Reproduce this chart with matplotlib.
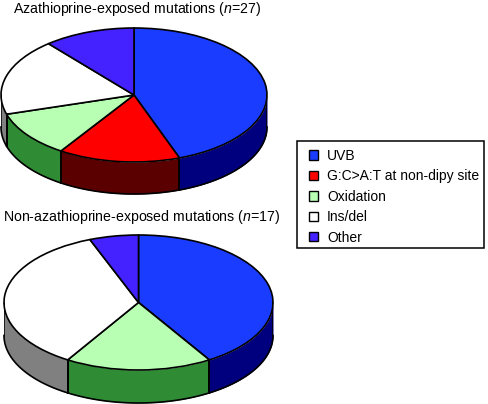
import numpy as np
import matplotlib
matplotlib.use("Agg")
import matplotlib.pyplot as plt
from matplotlib.patches import Patch, Rectangle

labels = ['UVB', 'G:C>A:T at non-dipy site', 'Oxidation', 'Ins/del', 'Other']
top_counts = [12, 4, 3, 5, 3]
bottom_counts = [7, 0, 3, 6, 1]
face_colors = ['#1a3cff', '#ff0000', '#b8ffb4', '#ffffff', '#4422ff']
side_colors = ['#00007f', '#5a0000', '#2f8c35', '#808080', '#22117f']

W, H = 488, 404
plt.rcParams['font.family'] = ['Liberation Sans', 'DejaVu Sans']
plt.rcParams['mathtext.fontset'] = 'custom'
plt.rcParams['mathtext.it'] = 'Liberation Sans:italic'
plt.rcParams['mathtext.rm'] = 'Liberation Sans'


def pie3d(fig, counts, left, right, top, front, depth):
    # box in pixels, top of the face ellipse to the bottom of the wall
    ry = (front - top) / 2
    ax = fig.add_axes([left / W, 1 - (front + depth) / H, (right - left) / W, (front + depth - top) / H])
    dy = depth / ry

    # walls first, only the front half of the disc shows
    edges = np.cumsum([0] + list(counts)) / sum(counts) * 2 * np.pi
    for i in range(len(counts)):
        a = max(edges[i], np.pi / 2)
        b = min(edges[i + 1], 3 * np.pi / 2)
        if b <= a:
            continue
        t = np.linspace(a, b, 80)
        x = np.sin(t)
        y = np.cos(t)
        ax.fill_between(x, y - dy, y, color=side_colors[i], lw=0)
        ax.plot(x, y - dy, color='k', lw=1.2, clip_on=False)
        ax.plot([x[0], x[0]], [y[0], y[0] - dy], color='k', lw=1.2)
        ax.plot([x[-1], x[-1]], [y[-1], y[-1] - dy], color='k', lw=1.2)

    ax.pie(counts, colors=face_colors, startangle=90, counterclock=False, radius=1,
           wedgeprops={'edgecolor': 'k', 'linewidth': 1.2, 'clip_on': False})
    ax.set_aspect('auto')
    ax.set_xlim(-1, 1)
    ax.set_ylim(-1 - dy, 1)
    ax.axis('off')
    return ax


fig = plt.figure(figsize=(W / 100, H / 100), dpi=100)

pie3d(fig, top_counts, 1, 267, 28, 162, 32)
pie3d(fig, bottom_counts, 4, 273, 235, 370, 33)

fig.text(13 / W, 1 - 13 / H, 'Azathioprine-exposed mutations ($\\mathit{n}$=27)',
         fontsize=10.2, color='k', va='baseline')
fig.text(3 / W, 1 - 221 / H, 'Non-azathioprine-exposed mutations ($\\mathit{n}$=17)',
         fontsize=10.2, color='k', va='baseline')

# legend frame has uneven padding, so it is drawn separately
fig.add_artist(Rectangle((297 / W, 1 - 248 / H), 187 / W, 107 / H, transform=fig.transFigure,
                         facecolor='w', edgecolor='k', linewidth=1.1))
handles = [Patch(facecolor=c, edgecolor='k', linewidth=1.0) for c in face_colors]
fig.legend(handles, labels, loc='upper left', bbox_to_anchor=(309 / W, 1 - 149 / H),
           fontsize=10, frameon=False, handlelength=0.65, handleheight=0.65,
           handletextpad=0.64, labelspacing=0.46, borderaxespad=0, borderpad=0)

fig.savefig('out.png', dpi=100)
